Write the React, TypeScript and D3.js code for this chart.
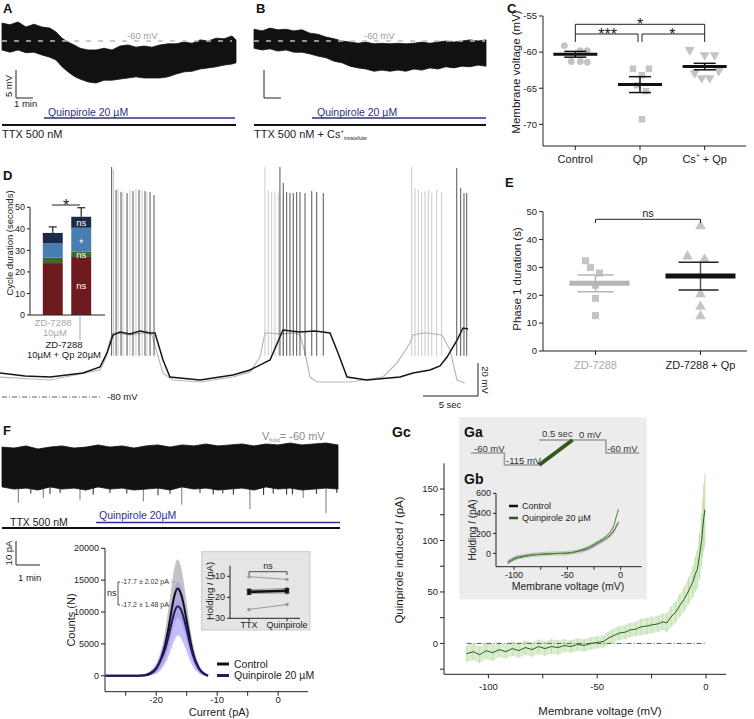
import React from "react";
import * as d3 from "d3";

const FONT = "'Liberation Sans', Arial, Helvetica, sans-serif";
const INK = "#222";
const NAVY = "#2e2e8e";
const QPH = "#1e1a6a";
const GDARK = "#2f5a1c";
const PTGRAY = "#c4c4c4";

// ===== Panel A (time min, membrane mV envelope) =====
const aTime = [0, 0.47, 0.94, 1.41, 1.88, 2.35, 2.82, 3.18, 3.53, 3.88, 4.24, 4.59, 5.06, 5.53, 6.0, 6.47, 6.94, 7.41, 7.88, 8.35, 8.82, 9.29, 9.76, 10.24, 10.71, 11.18, 11.65, 12.12, 12.59, 13.06, 13.53, 13.76];
const aUpper = [-56.8, -57.1, -56.6, -57.5, -57.0, -57.5, -57.7, -58.4, -59.5, -60.2, -60.7, -61.3, -61.6, -61.6, -61.3, -61.6, -60.9, -60.7, -61.1, -60.9, -61.1, -60.7, -60.5, -60.5, -60.2, -60.4, -59.8, -60.0, -59.5, -59.6, -59.1, -59.8];
const aLower = [-61.6, -62.0, -61.6, -62.1, -62.0, -62.5, -62.9, -63.4, -64.6, -65.5, -66.3, -66.8, -67.3, -67.5, -67.0, -67.0, -66.8, -66.6, -66.4, -66.6, -66.6, -66.6, -66.4, -65.9, -65.5, -65.4, -65.0, -64.8, -64.6, -64.3, -64.1, -63.9];
const aQpStart = 2.47;

// ===== Panel B =====
const bTime = [0, 0.47, 0.94, 1.41, 1.88, 2.35, 2.82, 3.29, 3.76, 4.24, 4.71, 5.18, 5.65, 6.12, 6.59, 7.06, 7.53, 8.0, 8.47, 8.94, 9.41, 9.88, 10.35, 10.82, 11.29, 11.76, 12.24, 12.71, 13.18, 13.65];
const bUpper = [-57.9, -58.2, -57.7, -58.0, -57.9, -58.2, -58.0, -58.6, -58.8, -59.3, -59.6, -60.0, -60.2, -60.4, -60.2, -60.5, -60.4, -60.5, -60.4, -60.5, -60.4, -60.2, -60.4, -60.2, -60.0, -60.2, -60.0, -59.8, -60.0, -59.8];
const bLower = [-61.3, -61.6, -61.4, -61.8, -61.6, -62.0, -62.0, -62.3, -62.7, -63.0, -63.6, -63.9, -64.5, -64.8, -65.0, -65.4, -65.2, -65.4, -65.2, -65.4, -65.0, -65.2, -64.8, -65.0, -64.6, -64.8, -64.5, -64.6, -64.3, -64.5];
const bQpStart = 3.41;

// ===== Panel C =====
const cCats = ["Control", "Qp", "Cs+ + Qp"];
const cControl = [-59.1, -59.8, -59.8, -61.3, -61.3, -61.4];
const cControlJit = [-11, 5, 12, -4, 5, 12];
const cQp = [-62.3, -62.3, -63.2, -64.6, -65.4, -69.3];
const cQpJit = [-7, 9, 2, -3, 6, 2];
const cCs = [-59.7, -60.4, -60.4, -62.9, -63.6, -63.6, -62.6];
const cCsJit = [-15, 0, 10, -10, -3, 5, 14];
const cMean = [-60.3, -64.5, -62.0];
const cSem = [0.4, 1.1, 0.45];
const cTicks = [-55, -60, -65, -70];

// ===== Panel D (inset bars) =====
const dBarCats = ["ZD", "ZDQp"];
const dPhase1 = [24.1, 26.9];
const dPhase2 = [2.6, 2.6];
const dPhase3 = [6.7, 11.0];
const dPhase4 = [4.7, 5.1];
const dErr = [2.8, 4.2];
const dSigQp = ["ns", "ns", "*", "ns"];
const dTicks = [0, 10, 20, 30, 40, 50];
// D traces (time s, mV)
const dBlackT = [0, 2.27, 4.55, 7.55, 9.09, 9.73, 10.27, 10.91, 11.82, 12.73, 13.64, 14.09, 14.82, 15.45, 18.18, 21.18, 22.73, 24.55, 25.45, 25.73, 27.27, 28.64, 30.0, 30.73, 31.55, 33.36, 36.36, 37.55, 39.09, 40.0, 40.64, 41.55, 42.09, 42.55];
const dBlackV = [-65.5, -67.3, -67.9, -65.5, -61.8, -53.3, -42.4, -40.6, -41.8, -40.0, -41.2, -41.2, -57.6, -67.9, -69.7, -66.7, -63.6, -57.6, -43.6, -39.4, -40.6, -40.0, -41.2, -53.3, -67.9, -69.7, -67.9, -65.5, -63.6, -61.2, -55.8, -45.5, -38.2, -38.8];
const dGrayT = [0, 4.55, 9.09, 9.55, 10.0, 10.27, 11.82, 13.18, 13.82, 14.27, 14.82, 15.73, 18.18, 21.18, 22.73, 23.64, 24.09, 25.45, 26.82, 27.27, 27.73, 28.18, 28.82, 31.82, 34.82, 36.09, 37.27, 37.55, 38.64, 40.18, 40.91, 41.55, 42.27];
const dGrayV = [-67.9, -69.7, -63.6, -57.6, -45.5, -41.2, -42.4, -41.2, -42.4, -53.3, -65.5, -69.7, -70.9, -67.9, -64.8, -55.8, -41.2, -41.8, -41.2, -42.4, -53.3, -67.9, -70.9, -70.9, -67.9, -59.4, -47.3, -42.4, -41.2, -42.4, -51.5, -69.7, -71.5];
const dBlackSpikeT = [10.15, 10.55, 11.0, 11.55, 12.09, 12.64, 13.18, 13.64, 14.0, 25.45, 25.75, 26.06, 26.36, 26.66, 26.97, 27.27, 27.73, 28.34, 28.79, 29.39, 41.52, 41.88, 42.18, 42.43];
const dBlackSpikeV = [59.4, 45.5, 44.2, 43.6, 44.8, 45.5, 44.8, 44.2, 42.4, 59.4, 49.7, 44.2, 43.6, 43.6, 44.2, 44.2, 43.6, 44.8, 44.2, 43.6, 58.8, 46.7, 43.6, 43.6];
const dGraySpikeT = [10.32, 10.73, 11.18, 11.82, 12.36, 12.91, 13.36, 24.09, 24.39, 24.7, 25.0, 25.3, 25.75, 37.43, 37.73, 38.03, 38.34, 38.64, 38.94, 39.25, 39.7, 40.15];
const dGraySpikeV = [57.6, 46.1, 44.8, 45.5, 46.1, 45.5, 44.2, 59.4, 45.5, 44.2, 44.8, 43.6, 42.4, 59.4, 46.7, 45.5, 44.2, 44.8, 45.5, 43.6, 45.5, 44.2];
const dSpikeTrough = -55;

// ===== Panel E =====
const eCats = ["ZD-7288", "ZD-7288 + Qp"];
const eZD = [32.4, 30.0, 28.0, 23.6, 18.9, 12.7];
const eZDJit = [-10, -5, 4, 0, 0, 0];
const eQp = [44.8, 34.0, 32.9, 20.4, 15.9, 12.5];
const eQpJit = [0, -13, 4, 0, 0, 0];
const eMean = [24.3, 26.9];
const eSem = [3.0, 5.0];
const eTicks = [0, 10, 20, 30, 40, 50];

// ===== Panel F =====
const fTime = [0, 0.5, 1, 1.5, 2, 2.5, 3, 3.5, 4, 4.5, 5, 5.5, 6, 6.5, 7, 7.5, 8, 8.5, 9, 9.5, 10, 10.5, 11, 11.5, 12, 12.5, 13, 13.5, 14];
const fUpper = [8.3, 7.9, 8.8, 7.5, 8.3, 8.8, 7.9, 8.3, 9.2, 8.3, 8.8, 7.9, 8.8, 9.2, 8.3, 9.2, 8.8, 9.6, 8.8, 9.2, 9.6, 8.8, 9.6, 9.2, 10.0, 9.2, 9.6, 10.0, 9.2];
const fLower = [-8.3, -9.2, -8.8, -9.6, -8.3, -9.2, -8.8, -9.6, -8.3, -9.2, -8.8, -9.6, -9.2, -8.8, -9.6, -8.3, -9.2, -8.8, -9.6, -9.2, -8.8, -9.6, -8.3, -9.2, -8.8, -9.6, -9.2, -8.8, -9.2];
const fEventT = [0.68, 1.2, 1.72, 2.0, 2.42, 3.25, 3.8, 4.5, 5.2, 5.89, 6.5, 7.0, 7.49, 8.25, 8.8, 9.2, 9.64, 10.33, 10.9, 11.3, 11.86, 12.1, 12.55, 13.1, 13.5, 13.95];
const fEventAmp = [-15.0, -11.0, -12.9, -11.2, -10.8, -13.6, -11.5, -10.8, -11.0, -14.3, -11.8, -11.2, -15.7, -10.8, -11.4, -11.0, -11.5, -17.5, -11.6, -11.0, -11.5, -11.4, -12.9, -11.2, -19.2, -10.8];
const fQpStart = 3.92;
// histogram
const hCurrent = [-28.3, -24, -22, -21, -20, -19, -18.5, -18, -17.5, -17, -16.5, -16, -15.5, -15, -14.5, -14, -13, -12, -11.5];
const hControl = [0, 0, 50, 300, 1100, 3300, 5000, 7400, 10200, 12600, 13700, 13000, 11200, 8600, 6000, 3700, 1200, 250, 0];
const hControlHi = [0, 0, 100, 500, 1700, 4800, 7300, 10500, 14000, 17000, 18300, 17300, 14800, 11500, 8100, 5200, 1800, 400, 0];
const hControlLo = [0, 0, 0, 100, 500, 1800, 2800, 4300, 6400, 8200, 9100, 8700, 7400, 5600, 3900, 2300, 600, 100, 0];
const hQp = [0, 0, 80, 400, 1200, 3000, 4300, 6100, 8200, 10000, 10900, 10500, 9100, 7200, 5100, 3300, 1100, 200, 0];
const hQpHi = [0, 0, 200, 800, 2000, 4300, 6200, 8500, 11300, 13700, 14700, 14200, 12400, 9800, 7000, 4700, 1700, 400, 0];
const hQpLo = [0, 0, 0, 50, 300, 1200, 2000, 3000, 4300, 5600, 6300, 6000, 5000, 3800, 2500, 1500, 400, 0, 0];
const hYTicks = [0, 5000, 10000, 15000, 20000];
const hXTicks = [-20, -10, 0];
const hXMinor = [-25, -15, -5];
// inset holding current
const iCats = ["TTX", "Quinpirole"];
const iTTX = [-10.2, -16.4, -17.0, -17.5, -18.2, -25.8];
const iQp = [-11.5, -15.8, -16.6, -17.3, -17.9, -23.4];
const iMean = [-17.4, -16.9];
const iSem = [1.2, 1.0];
const iTicks = [-10, -20, -30];

// ===== Panel G =====
const gaTime = [0, 0.5, 0.5, 1.02, 1.52, 2.02, 2.02, 2.52];
const gaVolt = [-60, -60, -115, -115, 0, 0, -60, -60];
const gbVolt = [-106, -100, -90, -80, -70, -60, -50, -40, -30, -20, -15, -10, -6, -4, -2];
const gbControl = [-88, -50, -25, -12, -5, 0, 3, 20, 50, 110, 140, 180, 230, 270, 310];
const gbQp = [-100, -62, -32, -15, -7, -2, 2, 25, 65, 125, 160, 210, 290, 370, 440];
const gbYTicks = [0, 200, 400, 600];
const gbXTicks = [-100, -50, 0];
const gcVolt = [-110, -107, -104, -101, -98, -95, -92, -89, -86, -83, -80, -77, -74, -71, -68, -65, -62, -59, -56, -53, -50, -47, -45, -43, -40, -37, -35, -32, -30, -27, -25, -22, -20, -18, -16, -14, -12, -10, -8, -6, -5, -4, -3, -2, -1.5, -1, -0.5];
const gcMean = [-10, -8, -11, -7, -9, -6, -8, -5, -7, -4, -6, -3, -5, -3, -4, -2, -3, -1, -2, 0, 1, 2, 5, 7, 10, 11, 13, 14, 16, 17, 18, 19, 21, 20, 26, 30, 37, 43, 51, 60, 67, 72, 85, 100, 112, 122, 130];
const gcSem = [8, 8, 8, 8, 8, 7, 7, 7, 7, 7, 7, 7, 7, 7, 7, 6, 6, 6, 6, 6, 6, 6, 6, 7, 7, 7, 7, 7, 8, 8, 8, 8, 8, 9, 10, 10, 11, 12, 13, 15, 17, 19, 22, 25, 28, 32, 35];
const gcYTicks = [0, 50, 100, 150];
const gcYMinor = [-25, 25, 75, 125];
const gcXTicks = [-100, -50, 0];
const gcXMinor = [-75, -25];

function YAxis({ scale, x, ticks, minor = [], size = 9.5, len = 4, gap = 2, y0 = null, y1 = null }: any) {
  const r = scale.range();
  const a = y0 ?? r[0];
  const b = y1 ?? r[1];
  return (
    <g>
      <line x1={x} x2={x} y1={a} y2={b} stroke={INK} strokeWidth={1} />
      {ticks.map((t: number) => (
        <g key={"t" + t}>
          <line x1={x - len} x2={x} y1={scale(t)} y2={scale(t)} stroke={INK} />
          <text x={x - len - gap} y={scale(t)} dy="0.35em" textAnchor="end" fontSize={size} fill={INK}>{String(t)}</text>
        </g>
      ))}
      {minor.map((t: number) => (
        <line key={"m" + t} x1={x - len} x2={x} y1={scale(t)} y2={scale(t)} stroke={INK} />
      ))}
    </g>
  );
}

function XAxis({ scale, y, ticks, minor = [], size = 9.5, len = 4, x0, x1, labelY }: any) {
  return (
    <g>
      <line x1={x0} x2={x1} y1={y} y2={y} stroke={INK} strokeWidth={1} />
      {ticks.map((t: number) => (
        <g key={"t" + t}>
          <line x1={scale(t)} x2={scale(t)} y1={y} y2={y + len} stroke={INK} />
          <text x={scale(t)} y={labelY} textAnchor="middle" fontSize={size} fill={INK}>{String(t)}</text>
        </g>
      ))}
      {minor.map((t: number) => (
        <line key={"m" + t} x1={scale(t)} x2={scale(t)} y1={y} y2={y + len} stroke={INK} />
      ))}
    </g>
  );
}

function Stars({ x, y, text, size = 16 }: any) {
  return <text x={x} y={y + 0.42 * size - 1} textAnchor="middle" fontSize={size} fill={INK}>{text}</text>;
}

export default function App() {
  // ---------- A ----------
  const xA = d3.scaleLinear().domain([0, 13.76]).range([2, 236]);
  const yA = d3.scaleLinear().domain([-60, -55]).range([41, 13]);
  const areaA = d3.area().x((_: any, i: number) => xA(aTime[i])).y0((_: any, i: number) => yA(aLower[i])).y1((_: any, i: number) => yA(aUpper[i]));
  const xB = d3.scaleLinear().domain([0, 13.65]).range([254, 486]);
  const yB = yA;
  const areaB = d3.area().x((_: any, i: number) => xB(bTime[i])).y0((_: any, i: number) => yB(bLower[i])).y1((_: any, i: number) => yB(bUpper[i]));

  // ---------- C ----------
  const xC = d3.scalePoint().domain(cCats).range([543, 737]).padding(0.5);
  const yC = d3.scaleLinear().domain([-73, -55]).range([146, 16]);
  const sq = d3.symbol().type(d3.symbolSquare).size(42)();
  const tri = d3.symbol().type(d3.symbolTriangle).size(42)();
  const cx0 = xC("Control")!, cx1 = xC("Qp")!, cx2 = xC("Cs+ + Qp")!;

  // ---------- D ----------
  const xD = d3.scaleLinear().domain([0, 45]).range([0, 495]);
  const yD = d3.scaleLinear().domain([-80, -60]).range([397, 364]);
  const lineD = (T: number[], V: number[]) => d3.line().x((_: any, i: number) => xD(T[i])).y((_: any, i: number) => yD(V[i]))(T as any);
  const xBar = d3.scaleBand().domain(dBarCats).range([30, 104]).paddingInner(0.3).paddingOuter(0.45);
  const yBar = d3.scaleLinear().domain([0, 50]).range([315, 207.3]);
  const stackData = dBarCats.map((c, i) => ({ c, p1: dPhase1[i], p2: dPhase2[i], p3: dPhase3[i], p4: dPhase4[i] }));
  const stacked = d3.stack().keys(["p1", "p2", "p3", "p4"])(stackData as any);
  const phaseColors = ["#6d1b1f", "#3c6a2d", "#4a7eb3", "#1c2a45"];

  // ---------- E ----------
  const xE = d3.scalePoint().domain(eCats).range([543, 753]).padding(0.5);
  const yE = d3.scaleLinear().domain([0, 50]).range([351, 211.7]);
  const ex0 = xE(eCats[0])!, ex1 = xE(eCats[1])!;
  const sqE = d3.symbol().type(d3.symbolSquare).size(50)();
  const triE = d3.symbol().type(d3.symbolTriangle).size(50)();

  // ---------- F ----------
  const xF = d3.scaleLinear().domain([0, 14]).range([2, 338]);
  const yF = d3.scaleLinear().domain([0, 10]).range([467, 443]);
  const areaF = d3.area().x((_: any, i: number) => xF(fTime[i])).y0((_: any, i: number) => yF(fLower[i])).y1((_: any, i: number) => yF(fUpper[i]));
  const xH = d3.scaleLinear().domain([-28.4, 4.9]).range([105, 308]);
  const yH = d3.scaleLinear().domain([-2500, 20000]).range([691.7, 548.3]);
  const histArea = (lo: number[], hi: number[]) => d3.area().curve(d3.curveMonotoneX).x((_: any, i: number) => xH(hCurrent[i])).y0((_: any, i: number) => yH(lo[i])).y1((_: any, i: number) => yH(hi[i]))(hCurrent as any);
  const histLine = (v: number[]) => d3.line().curve(d3.curveMonotoneX).x((_: any, i: number) => xH(hCurrent[i])).y((_: any, i: number) => yH(v[i]))(hCurrent as any);
  const xI = d3.scalePoint().domain(iCats).range([230, 306]).padding(0.5);
  const yI = d3.scaleLinear().domain([-30, -5]).range([618.3, 565.8]);
  const ix0 = xI("TTX")!, ix1 = xI("Quinpirole")!;

  // ---------- G ----------
  const xGa = d3.scaleLinear().domain([0, 2.52]).range([471, 639.3]);
  const yGa = d3.scaleLinear().domain([-115, 0]).range([465, 440]);
  const gaPts = gaTime.map((t, i) => [xGa(t), yGa(gaVolt[i])]);
  const xGb = d3.scaleLinear().domain([-117, 19.8]).range([496, 641.7]);
  const yGb = d3.scaleLinear().domain([-133, 600]).range([566.7, 493.3]);
  const gbArea = (v: number[], w: number) => d3.area().curve(d3.curveMonotoneX).x((_: any, i: number) => xGb(gbVolt[i])).y0((_: any, i: number) => yGb(v[i] - w)).y1((_: any, i: number) => yGb(v[i] + w))(gbVolt as any);
  const gbLine = (v: number[]) => d3.line().curve(d3.curveMonotoneX).x((_: any, i: number) => xGb(gbVolt[i])).y((_: any, i: number) => yGb(v[i]))(gbVolt as any);
  const xGc = d3.scaleLinear().domain([-120.4, 9.2]).range([444, 726]);
  const yGc = d3.scaleLinear().domain([-30, 175]).range([674.3, 463.3]);
  const gcArea = d3.area().x((_: any, i: number) => xGc(gcVolt[i])).y0((_: any, i: number) => yGc(gcMean[i] - gcSem[i])).y1((_: any, i: number) => yGc(gcMean[i] + gcSem[i]))(gcVolt as any);
  const gcLine = d3.line().x((_: any, i: number) => xGc(gcVolt[i])).y((_: any, i: number) => yGc(gcMean[i]))(gcVolt as any);

  const bold = { fontWeight: 700, fontSize: 13 } as any;

  return (
    <svg width={754} height={719} viewBox="0 0 754 719" style={{ position: "absolute", left: 0, top: 0, background: "#fff" }} fontFamily={FONT}>
      <rect width={754} height={719} fill="#fff" />

      {/* ================= A ================= */}
      <text x={3} y={13} {...bold} fill="#111">A</text>
      <path d={areaA(aTime as any) || ""} fill="#111" stroke="#111" strokeWidth={0.8} />
      <line x1={2} x2={232} y1={yA(-60)} y2={yA(-60)} stroke="#bdbdbd" strokeWidth={1.6} strokeDasharray="5,7" />
      <text x={127} y={39} fontSize={9.5} fill="#9a9a9a">-60 mV</text>
      <line x1={16} x2={16} y1={98} y2={98 - (yA(-60) - yA(-55))} stroke={INK} />
      <line x1={16} x2={16 + (xA(1) - xA(0))} y1={98} y2={98} stroke={INK} />
      <text transform="translate(12,86) rotate(-90)" textAnchor="middle" fontSize={9.5} fill={INK}>5 mV</text>
      <text x={14} y={107} fontSize={9.5} fill={INK}>1 min</text>
      <line x1={xA(aQpStart)} x2={235} y1={118} y2={118} stroke={NAVY} strokeWidth={1.5} />
      <text x={48} y={116} fontSize={10.5} fill={NAVY}>Quinpirole 20 µM</text>
      <line x1={2} x2={236} y1={125} y2={125} stroke="#111" strokeWidth={2} />
      <text x={2} y={138} fontSize={11} fill={INK}>TTX 500 nM</text>

      {/* ================= B ================= */}
      <text x={256} y={13} {...bold} fill="#111">B</text>
      <path d={areaB(bTime as any) || ""} fill="#111" stroke="#111" strokeWidth={0.8} />
      <line x1={254} x2={485} y1={yB(-60)} y2={yB(-60)} stroke="#bdbdbd" strokeWidth={1.6} strokeDasharray="5,7" />
      <text x={364} y={39} fontSize={9.5} fill="#9a9a9a">-60 mV</text>
      <line x1={264} x2={264} y1={98} y2={98 - (yA(-60) - yA(-55))} stroke={INK} />
      <line x1={264} x2={264 + (xB(1) - xB(0))} y1={98} y2={98} stroke={INK} />
      <line x1={xB(bQpStart)} x2={486} y1={118} y2={118} stroke={NAVY} strokeWidth={1.5} />
      <text x={317} y={116} fontSize={10.5} fill={NAVY}>Quinpirole 20 µM</text>
      <line x1={254} x2={486} y1={125} y2={125} stroke="#111" strokeWidth={2} />
      <text x={254} y={138} fontSize={11} fill={INK}>TTX 500 nM + Cs<tspan fontSize={6} dy={-5}>+</tspan><tspan fontSize={4.5} dy={7}>intracellular</tspan></text>

      {/* ================= C ================= */}
      <text x={507} y={13} {...bold} fill="#111">C</text>
      <YAxis scale={yC} x={543} ticks={cTicks} />
      <line x1={543} x2={746} y1={146} y2={146} stroke={INK} />
      {cCats.map((c) => (
        <line key={c} x1={xC(c)} x2={xC(c)} y1={146} y2={150} stroke={INK} />
      ))}
      <text x={cx0} y={163} textAnchor="middle" fontSize={11} fill={INK}>Control</text>
      <text x={cx1} y={163} textAnchor="middle" fontSize={11} fill={INK}>Qp</text>
      <text x={cx2} y={163} textAnchor="middle" fontSize={11} fill={INK}>Cs<tspan fontSize={6.5} dy={-5}>+</tspan><tspan dy={5}> + Qp</tspan></text>
      <text transform="translate(520,72) rotate(-90)" textAnchor="middle" fontSize={11.5} fill={INK}>Membrane voltage (mV)</text>
      {cControl.map((v, i) => <circle key={"cc" + i} cx={cx0 + cControlJit[i]} cy={yC(v)} r={3.4} fill={PTGRAY} />)}
      {cQp.map((v, i) => <path key={"cq" + i} d={sq || ""} transform={`translate(${cx1 + cQpJit[i]},${yC(v)})`} fill={PTGRAY} />)}
      {cCs.map((v, i) => <path key={"cs" + i} d={tri || ""} transform={`translate(${cx2 + cCsJit[i]},${yC(v)}) rotate(180)`} fill={PTGRAY} />)}
      {[cx0, cx1, cx2].map((cx, i) => (
        <g key={"cm" + i}>
          <line x1={cx - 22} x2={cx + 22} y1={yC(cMean[i])} y2={yC(cMean[i])} stroke="#111" strokeWidth={3} />
          <line x1={cx} x2={cx} y1={yC(cMean[i] - cSem[i])} y2={yC(cMean[i] + cSem[i])} stroke="#111" strokeWidth={1.5} />
          <line x1={cx - 11} x2={cx + 11} y1={yC(cMean[i] - cSem[i])} y2={yC(cMean[i] - cSem[i])} stroke="#111" strokeWidth={1.5} />
          <line x1={cx - 11} x2={cx + 11} y1={yC(cMean[i] + cSem[i])} y2={yC(cMean[i] + cSem[i])} stroke="#111" strokeWidth={1.5} />
        </g>
      ))}
      <path d={`M${cx0},42 V24.3 H${cx2} V42`} fill="none" stroke={INK} />
      <path d={`M${cx0},34 H${cx1 - 2} V42`} fill="none" stroke={INK} />
      <path d={`M${cx1 + 2},42 V34 H${cx2}`} fill="none" stroke={INK} />
      <Stars x={cx1} y={24.3} text="*" />
      <Stars x={(cx0 + cx1) / 2} y={34} text="***" />
      <Stars x={(cx1 + cx2) / 2} y={34} text="*" />

      {/* ================= D ================= */}
      <text x={3} y={180} {...bold} fill="#111">D</text>
      <path d={lineD(dGrayT, dGrayV) || ""} fill="none" stroke="#b8b8b8" strokeWidth={1.2} />
      {dGraySpikeT.map((t, i) => (
        <line key={"gs" + i} x1={xD(t)} x2={xD(t)} y1={yD(dSpikeTrough)} y2={yD(dGraySpikeV[i])} stroke="#bdbdbd" strokeWidth={0.8} />
      ))}
      <path d={lineD(dBlackT, dBlackV) || ""} fill="none" stroke="#151515" strokeWidth={1.5} />
      {dBlackSpikeT.map((t, i) => (
        <line key={"bs" + i} x1={xD(t)} x2={xD(t)} y1={yD(dSpikeTrough)} y2={yD(dBlackSpikeV[i])} stroke="#2a2a2a" strokeWidth={0.8} />
      ))}
      <line x1={2} x2={100} y1={yD(-80)} y2={yD(-80)} stroke="#333" strokeWidth={0.8} strokeDasharray="5,2,1,2" />
      <text x={107} y={400} fontSize={9.5} fill={INK}>-80 mV</text>
      <line x1={478} x2={478} y1={396} y2={396 - (yD(-80) - yD(-60))} stroke={INK} />
      <line x1={478 - (xD(5) - xD(0))} x2={478} y1={396} y2={396} stroke={INK} />
      <text transform="translate(482,380) rotate(90)" textAnchor="middle" fontSize={9.5} fill={INK}>20 mV</text>
      <text x={450} y={408} textAnchor="middle" fontSize={9.5} fill={INK}>5 sec</text>
      {/* inset bars */}
      {stacked.map((layer: any, li: number) => layer.map((seg: any, bi: number) => (
        <rect key={`s${li}-${bi}`} x={xBar(dBarCats[bi])} width={xBar.bandwidth()} y={yBar(seg[1])} height={yBar(seg[0]) - yBar(seg[1])} fill={phaseColors[li]} />
      )))}
      {dBarCats.map((c, bi) => {
        const top = dPhase1[bi] + dPhase2[bi] + dPhase3[bi] + dPhase4[bi];
        const cx = (xBar(c) as number) + xBar.bandwidth() / 2;
        return (
          <g key={"err" + bi}>
            <line x1={cx} x2={cx} y1={yBar(top)} y2={yBar(top + dErr[bi])} stroke="#222" strokeWidth={1.2} />
            <line x1={cx - 4} x2={cx + 4} y1={yBar(top + dErr[bi])} y2={yBar(top + dErr[bi])} stroke="#222" strokeWidth={1.2} />
          </g>
        );
      })}
      {stacked.map((layer: any, li: number) => {
        const seg = layer[1];
        const cx = (xBar(dBarCats[1]) as number) + xBar.bandwidth() / 2;
        const lab = dSigQp[li];
        const mid = (seg[0] + seg[1]) / 2;
        return <text key={"sig" + li} x={cx} y={yBar(mid)} dy={lab === "*" ? "0.7em" : "0.35em"} textAnchor="middle" fontSize={lab === "*" ? 10 : 9.5} fill="#fff">{lab}</text>;
      })}
      <YAxis scale={yBar} x={30} ticks={dTicks} size={9} len={3} />
      <line x1={30} x2={105} y1={315} y2={315} stroke={INK} />
      <text transform="translate(13,243) rotate(-90)" textAnchor="middle" fontSize={9.5} fill={INK}>Cycle duration (seconds)</text>
      <line x1={52} x2={80} y1={205} y2={205} stroke={INK} />
      <Stars x={66} y={205} text="*" />
      <text x={53} y={326} textAnchor="middle" fontSize={9.5} fill="#a8a8a8">ZD-7288</text>
      <text x={55} y={336} textAnchor="middle" fontSize={9.5} fill="#a8a8a8">10µM</text>
      <line x1={80} x2={80} y1={316} y2={340} stroke="#aaa" />
      <text x={64} y={348} textAnchor="middle" fontSize={9.5} fill={INK}>ZD-7288</text>
      <text x={64} y={358} textAnchor="middle" fontSize={9.5} fill={INK}>10µM + Qp 20µM</text>

      {/* ================= E ================= */}
      <text x={505} y={187} {...bold} fill="#111">E</text>
      <YAxis scale={yE} x={543} ticks={eTicks} />
      <line x1={543} x2={747} y1={351} y2={351} stroke={INK} />
      {eCats.map((c) => <line key={c} x1={xE(c)} x2={xE(c)} y1={351} y2={355} stroke={INK} />)}
      <text x={ex0} y={369} textAnchor="middle" fontSize={11} fill="#aaa">ZD-7288</text>
      <text x={ex1} y={369} textAnchor="middle" fontSize={11} fill={INK}>ZD-7288 + Qp</text>
      <text transform="translate(521,279) rotate(-90)" textAnchor="middle" fontSize={11.5} fill={INK}>Phase 1 duration (s)</text>
      {eZD.map((v, i) => <path key={"ez" + i} d={sqE || ""} transform={`translate(${ex0 + eZDJit[i]},${yE(v)})`} fill={PTGRAY} />)}
      {eQp.map((v, i) => <path key={"eq" + i} d={triE || ""} transform={`translate(${ex1 + eQpJit[i]},${yE(v)})`} fill={PTGRAY} />)}
      <line x1={ex0} x2={ex0} y1={yE(eMean[0] - eSem[0])} y2={yE(eMean[0] + eSem[0])} stroke="#b5b5b5" strokeWidth={1.5} />
      <line x1={ex0 - 18} x2={ex0 + 18} y1={yE(eMean[0] - eSem[0])} y2={yE(eMean[0] - eSem[0])} stroke="#b5b5b5" strokeWidth={1.5} />
      <line x1={ex0 - 18} x2={ex0 + 18} y1={yE(eMean[0] + eSem[0])} y2={yE(eMean[0] + eSem[0])} stroke="#b5b5b5" strokeWidth={1.5} />
      <line x1={ex0 - 26} x2={ex0 + 34} y1={yE(eMean[0])} y2={yE(eMean[0])} stroke="#b5b5b5" strokeWidth={5} />
      <line x1={ex1} x2={ex1} y1={yE(eMean[1] - eSem[1])} y2={yE(eMean[1] + eSem[1])} stroke="#555" strokeWidth={1.5} />
      <line x1={ex1 - 22} x2={ex1 + 18} y1={yE(eMean[1] - eSem[1])} y2={yE(eMean[1] - eSem[1])} stroke="#222" strokeWidth={1.5} />
      <line x1={ex1 - 22} x2={ex1 + 18} y1={yE(eMean[1] + eSem[1])} y2={yE(eMean[1] + eSem[1])} stroke="#222" strokeWidth={1.5} />
      <line x1={ex1 - 35} x2={ex1 + 35} y1={yE(eMean[1])} y2={yE(eMean[1])} stroke="#111" strokeWidth={5} />
      <path d={`M${ex0},223 V219.3 H${ex1} V223`} fill="none" stroke={INK} />
      <text x={648} y={217} textAnchor="middle" fontSize={11} fill={INK}>ns</text>

      {/* ================= F ================= */}
      <text x={3} y={435} {...bold} fill="#111">F</text>
      <text x={262} y={440} fontSize={11} fill="#8a8a8a">V<tspan fontSize={5.5} dy={2}>hold</tspan><tspan dy={-2}>= -60 mV</tspan></text>
      {fEventT.map((t, i) => (
        <line key={"fe" + i} x1={xF(t)} x2={xF(t)} y1={yF(-8)} y2={yF(fEventAmp[i])} stroke={fEventAmp[i] < -12 ? "#777" : "#222"} strokeWidth={1} />
      ))}
      <path d={areaF(fTime as any) || ""} fill="#111" stroke="#111" strokeWidth={0.8} />
      <line x1={xF(fQpStart)} x2={340} y1={522.5} y2={522.5} stroke={NAVY} strokeWidth={1.5} />
      <text x={99} y={518.5} fontSize={10.5} fill={NAVY}>Quinpirole 20µM</text>
      <line x1={2} x2={340} y1={528} y2={528} stroke="#111" strokeWidth={2} />
      <text x={10} y={526} fontSize={10.5} fill={INK}>TTX 500 nM</text>
      <line x1={16} x2={16} y1={565} y2={565 - (yF(0) - yF(10))} stroke={INK} />
      <line x1={16} x2={16 + (xF(1) - xF(0))} y1={565} y2={565} stroke={INK} />
      <text transform="translate(12,553) rotate(-90)" textAnchor="middle" fontSize={9.5} fill={INK}>10 pA</text>
      <text x={18} y={581} fontSize={9.5} fill={INK}>1 min</text>
      {/* histogram */}
      <path d={histArea(hControlLo, hControlHi) || ""} fill="#bdbdbd" opacity={0.9} />
      <path d={histArea(hQpLo, hQpHi) || ""} fill="#9c96f2" opacity={0.6} />
      <path d={histLine(hControl) || ""} fill="none" stroke="#111" strokeWidth={2} />
      <path d={histLine(hQp) || ""} fill="none" stroke={QPH} strokeWidth={2} />
      <YAxis scale={yH} x={105} ticks={hYTicks} size={9} y0={548.3} y1={691.7} />
      <XAxis scale={xH} y={691.7} ticks={hXTicks} minor={hXMinor} x0={105} x1={308} labelY={703} size={9.5} />
      <text x={219} y={716} textAnchor="middle" fontSize={11} fill={INK}>Current (pA)</text>
      <text transform="translate(75,620) rotate(-90)" textAnchor="middle" fontSize={11} fill={INK}>Counts (N)</text>
      <text x={107} y={596} fontSize={9} fill={INK}>ns</text>
      <path d="M120,582 H118 V605 H120" fill="none" stroke={INK} strokeWidth={0.8} />
      <text x={121} y={584} fontSize={7} fill="#333">-17.7 ± 2.02 pA</text>
      <text x={121} y={607} fontSize={7} fill="#333">-17.2 ± 1.48 pA</text>
      <line x1={166} x2={176} y1={582} y2={582} stroke="#555" strokeWidth={0.6} strokeDasharray="1,1.5" />
      <line x1={166} x2={176} y1={605} y2={605} stroke="#555" strokeWidth={0.6} strokeDasharray="1,1.5" />
      {/* legend */}
      <line x1={217} x2={229} y1={664} y2={664} stroke="#111" strokeWidth={3} />
      <text x={234} y={668} fontSize={10.5} fill={INK}>Control</text>
      <line x1={217} x2={229} y1={675.5} y2={675.5} stroke={QPH} strokeWidth={3} />
      <text x={234} y={679} fontSize={10.5} fill={INK}>Quinpirole 20 µM</text>
      {/* inset holding */}
      <rect x={201.7} y={551.7} width={108.3} height={78.3} fill="#e5e5e5" stroke="#c9c9c9" />
      <YAxis scale={yI} x={230} ticks={iTicks} size={9} len={3} />
      <line x1={230} x2={300} y1={618.3} y2={618.3} stroke={INK} />
      {iCats.map((c) => <line key={c} x1={xI(c)} x2={xI(c)} y1={618.3} y2={621.3} stroke={INK} />)}
      <text x={ix0} y={628} textAnchor="middle" fontSize={9} fill={INK}>TTX</text>
      <text x={ix1} y={628} textAnchor="middle" fontSize={9} fill={INK}>Quinpirole</text>
      <text transform="translate(213,591) rotate(-90)" textAnchor="middle" fontSize={9.5} fill={INK}>Holding <tspan fontStyle="italic">I</tspan> (pA)</text>
      {iTTX.map((v, i) => (
        <g key={"ih" + i}>
          <line x1={ix0} x2={ix1} y1={yI(v)} y2={yI(iQp[i])} stroke="#9a9a9a" strokeWidth={1} />
          <circle cx={ix0} cy={yI(v)} r={1.8} fill="#9a9a9a" />
          <circle cx={ix1} cy={yI(iQp[i])} r={1.8} fill="#9a9a9a" />
        </g>
      ))}
      <line x1={ix0} x2={ix1} y1={yI(iMean[0])} y2={yI(iMean[1])} stroke="#111" strokeWidth={2.5} />
      {[ix0, ix1].map((x, i) => (
        <g key={"im" + i}>
          <line x1={x} x2={x} y1={yI(iMean[i] - iSem[i])} y2={yI(iMean[i] + iSem[i])} stroke="#111" strokeWidth={1.5} />
          <line x1={x - 2.5} x2={x + 2.5} y1={yI(iMean[i] - iSem[i])} y2={yI(iMean[i] - iSem[i])} stroke="#111" />
          <line x1={x - 2.5} x2={x + 2.5} y1={yI(iMean[i] + iSem[i])} y2={yI(iMean[i] + iSem[i])} stroke="#111" />
          <circle cx={x} cy={yI(iMean[i])} r={2.2} fill="#111" />
        </g>
      ))}
      <path d={`M${ix0},575 V571.7 H${ix1} V575`} fill="none" stroke={INK} strokeWidth={0.8} />
      <text x={(ix0 + ix1) / 2} y={569} textAnchor="middle" fontSize={9} fill={INK}>ns</text>

      {/* ================= G ================= */}
      <rect x={459.3} y={417.3} width={187.4} height={182} fill="#ececec" />
      <text x={392} y={437} {...bold} fontSize={14} fill="#111">Gc</text>
      <text x={464} y={437} {...bold} fontSize={14} fill="#111">Ga</text>
      <text x={464} y={484} {...bold} fontSize={14} fill="#111">Gb</text>
      {/* Ga protocol */}
      <path d={d3.line()(gaPts.slice(0, 4) as any) || ""} fill="none" stroke="#9a9a9a" strokeWidth={1.5} />
      <path d={d3.line()(gaPts.slice(4) as any) || ""} fill="none" stroke="#9a9a9a" strokeWidth={1.5} />
      <line x1={xGa(gaTime[3])} x2={xGa(gaTime[4])} y1={yGa(0)} y2={yGa(0)} stroke="#9a9a9a" strokeWidth={1.5} />
      <line x1={gaPts[3][0]} y1={gaPts[3][1]} x2={gaPts[4][0]} y2={gaPts[4][1]} stroke={GDARK} strokeWidth={4} />
      <text x={474} y={451.5} fontSize={9.5} fill="#333">-60 mV</text>
      <text x={506} y={463.5} fontSize={9.5} fill="#333">-115 mV</text>
      <text x={542} y={437} fontSize={9.5} fill="#333">0.5 sec</text>
      <text x={579} y={438} fontSize={9.5} fill="#333">0 mV</text>
      <text x={607} y={451.5} fontSize={9.5} fill="#333">-60 mV</text>
      {/* Gb */}
      <path d={gbArea(gbControl, 22) || ""} fill="#9e9e9e" opacity={0.55} />
      <path d={gbArea(gbQp, 14) || ""} fill="#bfe0b0" opacity={0.8} />
      <path d={gbLine(gbControl) || ""} fill="none" stroke="#555" strokeWidth={1} />
      <path d={gbLine(gbQp) || ""} fill="none" stroke="#4a8a30" strokeWidth={1} />
      <YAxis scale={yGb} x={496} ticks={gbYTicks} size={9} len={3} />
      <XAxis scale={xGb} y={566.7} ticks={gbXTicks} minor={[-75, -25]} x0={496} x1={641.7} labelY={578} size={9} len={3} />
      <text x={568} y={590} textAnchor="middle" fontSize={10.5} fill={INK}>Membrane voltage (mV)</text>
      <text transform="translate(476,530) rotate(-90)" textAnchor="middle" fontSize={10} fill={INK}>Holding <tspan fontStyle="italic">I</tspan> (pA)</text>
      <line x1={509} x2={518} y1={506} y2={506} stroke="#111" strokeWidth={2.5} />
      <text x={522} y={509} fontSize={9} fill={INK}>Control</text>
      <line x1={509} x2={518} y1={518} y2={518} stroke={GDARK} strokeWidth={2.5} />
      <text x={522} y={521} fontSize={9} fill={INK}>Quinpirole 20 µM</text>
      {/* Gc */}
      <path d={gcArea || ""} fill="#d6ebcc" opacity={0.9} />
      {gcVolt.map((v, i) => (
        <line key={"ge" + i} x1={xGc(v)} x2={xGc(v)} y1={yGc(gcMean[i] - gcSem[i])} y2={yGc(gcMean[i] + gcSem[i])} stroke="#bfdfb0" strokeWidth={1} />
      ))}
      <line x1={xGc(-110)} x2={xGc(0)} y1={yGc(0)} y2={yGc(0)} stroke="#333" strokeWidth={0.8} strokeDasharray="5,2,1,2" />
      <path d={gcLine || ""} fill="none" stroke={GDARK} strokeWidth={1} />
      <YAxis scale={yGc} x={444} ticks={gcYTicks} minor={gcYMinor} size={9.5} />
      <XAxis scale={xGc} y={674.3} ticks={gcXTicks} minor={gcXMinor} x0={444} x1={726} labelY={690} size={9.5} />
      <text x={600} y={715} textAnchor="middle" fontSize={11.5} fill={INK}>Membrane voltage (mV)</text>
      <text transform="translate(403,560) rotate(-90)" textAnchor="middle" fontSize={11.5} fill={INK}>Quinpirole induced <tspan fontStyle="italic">I</tspan> (pA)</text>
    </svg>
  );
}
